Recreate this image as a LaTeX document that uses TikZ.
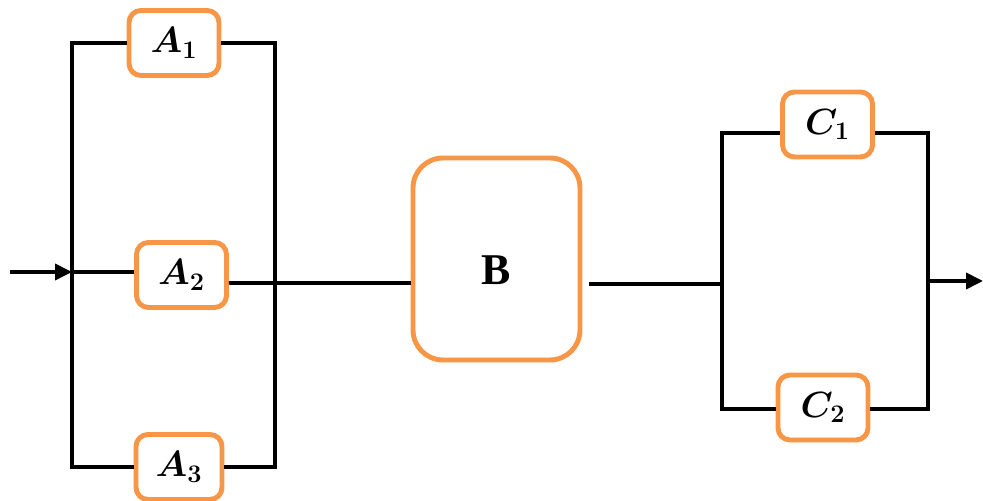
\documentclass[tikz,border=0pt]{standalone}
\usepackage{bm}
\usepackage{fontspec}
\newfontfamily\blockfont{Liberation Serif}
\usetikzlibrary{arrows.meta}
\definecolor{boxorange}{HTML}{F79646}
\tikzset{
  unit/.style = {draw = boxorange, fill = white, line width = 2.8pt,
    rounded corners = 0.24cm, minimum width = 1.8cm, minimum height = 1.3cm,
    inner sep = 0pt, font = \huge},
  wire/.style = {line width = 2.1pt},
  flow/.style = {wire, -{Triangle[length = 0.34cm, width = 0.32cm]}}
}
\begin{document}
\begin{tikzpicture}
      \useasboundingbox (0, 0) rectangle (19.66, 10.02);

      % first group
      \node[unit] (a1) at (3.48, 9.16) {\(\bm{A_1}\)};
      \node[unit] (a2) at (3.63, 4.52) {\(\bm{A_2}\)};
      \node[unit, minimum width = 1.72cm] (a3) at (3.58, 0.68) {\(\bm{A_3}\)};
      \coordinate (ain) at (1.44, 4.58);
      \coordinate (aout) at (5.5, 4.36);
      \coordinate (in) at (0.2, 4.58);
      \draw[flow] (in) -- (ain);
      \draw[wire] (a1.west) -| (1.44, 0.68) -- (a3.west);
      \draw[wire] (a1.east) -| (5.5, 0.68) -- (a3.east);
      \draw[wire] (ain) -- (a2.west |- ain);
      \draw[wire] ([yshift = -4.5pt] a2.east) -- (aout);

      % middle block
      \node[unit, minimum width = 3.34cm, minimum height = 4.04cm,
        rounded corners = 0.6cm, font = \fontsize{25}{30}\blockfont\bfseries]
        (b) at (9.93, 4.84) {\raisebox{-0.51cm}[0pt][0pt]{B}};
      \draw[wire] (aout) -- (aout -| b.west);

      % second group
      \node[unit] (c1) at (16.55, 7.53) {\(\bm{C_1}\)};
      \node[unit] (c2) at (16.46, 1.87) {\(\bm{C_2}\)};
      \coordinate (cin) at (14.44, 4.34);
      \coordinate (cout) at (18.56, 4.4);
      \coordinate (out) at (19.66, 4.4);
      \draw[wire] ([xshift = 0.14cm] b.east |- cin) -- (cin);
      \draw[wire] (c1.west |- 0, 7.36) -| (14.44, 1.84) -- (c2.west |- 0, 1.84);
      \draw[wire] (c1.east |- 0, 7.36) -| (18.56, 1.84) -- (c2.east |- 0, 1.84);
      \draw[flow] (cout) -- (out);

    \end{tikzpicture}
\end{document}
